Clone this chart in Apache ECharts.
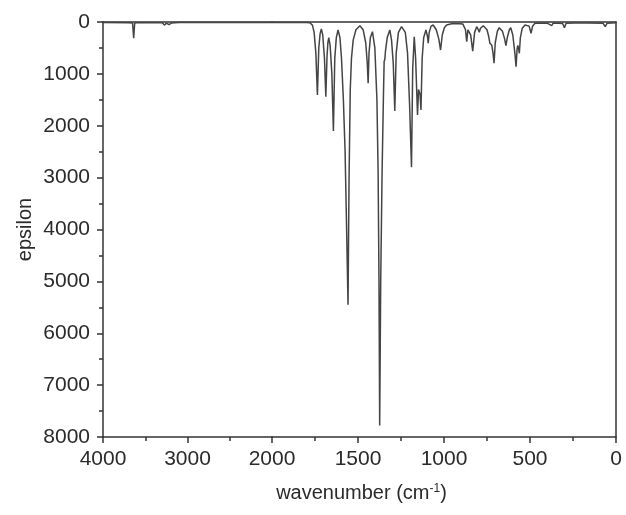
<!DOCTYPE html>
<html>
<head>
    <meta charset="utf-8">
    <title>IR spectrum</title>
    <script src="https://cdn.jsdelivr.net/npm/echarts@6/dist/echarts.min.js"></script>
    <style>
        html, body { margin: 0; padding: 0; background: #fff; }
    </style>
</head>
<body>
<div id="main" style="width: 626px;height:515px;"></div>
<script type="text/javascript">
    // spectrum, wavenumber (cm-1) high to low
    var wavenumber = [
        4000, 3700, 3650, 3637, 3625, 3600, 3300, 3270, 3250, 3220, 3190, 3100, 2000,
        1800, 1780, 1765, 1755, 1745, 1736, 1728, 1720, 1713, 1705, 1695, 1687, 1680, 1675, 1670,
        1662, 1652, 1643, 1635, 1626, 1616, 1605, 1596, 1585, 1575, 1565, 1558, 1552, 1545, 1538,
        1528, 1512, 1489, 1470, 1455, 1446, 1441, 1436, 1428, 1416, 1402, 1390, 1383, 1378, 1374,
        1368, 1360, 1352, 1348, 1344, 1340, 1330, 1315, 1305, 1295, 1286, 1278, 1265, 1247, 1239,
        1225, 1212, 1200, 1189, 1182, 1173, 1165, 1154, 1148, 1144, 1139, 1134, 1127, 1118, 1105,
        1096, 1092, 1086, 1075, 1063, 1045, 1030, 1020, 1010, 998, 985, 950, 910, 890,
        875, 868, 861, 855, 845, 833, 822, 810, 800, 795, 788, 772, 750, 740, 733, 722, 715, 709,
        702, 690, 679, 660, 648, 640, 632, 620, 612, 600, 588, 581, 575, 571, 566, 562, 556, 545,
        529, 505, 494, 485, 471, 400, 374, 365, 350, 344, 335, 310, 300, 290, 245, 238, 230, 176,
        170, 162, 75, 63, 52, 0
    ];
    var epsilon = [
        10, 15, 20, 314, 20, 15, 15, 60, 20, 50, 20, 10, 8,
        12, 15, 60, 200, 600, 1406, 500, 220, 135, 250, 700, 1440, 650, 400, 302,
        450, 1000, 2100, 700, 300, 154, 300, 700, 1500, 2500, 4200, 5450, 3000, 1300, 700,
        350, 150, 71, 150, 400, 800, 1180, 600, 300, 187, 500, 1500, 2900, 5000, 7780,
        5000, 2900, 1400, 760, 720, 550, 300, 154, 350, 800, 1715, 600, 200, 90, 90,
        200, 600, 1600, 2800, 900, 283, 700, 1790, 1300, 1280, 1400, 1696, 700, 300, 154,
        280, 410, 200, 80, 58, 150, 330, 540, 250, 110, 58, 30, 35, 40,
        150, 380, 150, 120, 250, 560, 200, 90, 150, 200, 120, 71, 150, 280, 410, 450, 600, 796,
        400, 180, 110, 180, 320, 457, 300, 150, 110, 250, 600, 861, 520, 450, 520, 603, 300, 120,
        58, 80, 218, 80, 25, 20, 70, 20, 25, 60, 25, 30, 110, 25, 20, 50, 20, 20,
        50, 20, 25, 90, 25, 15
    ];

    // the x axis is broken at 2000: 4000-2000 drawn at half the scale of 2000-0
    var breakAt = 2000;
    var highPart = [], lowPart = [];
    for (var i = 0; i < wavenumber.length; i++) {
        if (wavenumber[i] >= breakAt) highPart.push([wavenumber[i], epsilon[i]]);
        if (wavenumber[i] <= breakAt) lowPart.push([wavenumber[i], epsilon[i]]);
    }

    var font = "'Liberation Sans', Arial, sans-serif";
    var ink = '#333';
    var axisLine = {show: true, onZero: false, lineStyle: {color: ink, width: 1.5}};
    var tickLabel = {
        color: '#2b2b2b', fontSize: 21, fontFamily: font,
        formatter: function (v) { return String(v); }   // no thousands separator
    };

    function bottomAxis(grid, min, max, interval, extra) {
        var ax = {
            gridIndex: grid, type: 'value', position: 'bottom', inverse: true,
            min: min, max: max, interval: interval,
            axisLine: axisLine,
            axisTick: {show: true, length: 6, lineStyle: {color: ink, width: 1.5}},
            minorTick: {show: true, splitNumber: 2, length: 4, lineStyle: {color: ink, width: 1.5}},
            axisLabel: Object.assign({margin: 12}, tickLabel),
            splitLine: {show: false}
        };
        return Object.assign(ax, extra || {});
    }

    function topAxis(grid, min, max) {
        return {
            gridIndex: grid, type: 'value', position: 'top', inverse: true,
            min: min, max: max,
            axisLine: axisLine, axisTick: {show: false}, axisLabel: {show: false},
            splitLine: {show: false}
        };
    }

    var myChart = echarts.init(document.getElementById('main'));
    var option = {
        animation: false,
        backgroundColor: '#fff',
        grid: [
            {left: 103, top: 22, width: 169, height: 415},
            {left: 272, top: 22, width: 344, height: 415}
        ],
        xAxis: [
            bottomAxis(0, 2000, 4000, 1000),
            bottomAxis(1, 0, 2000, 500, {
                name: 'wavenumber (cm{sup|-1})',
                nameLocation: 'middle',
                nameGap: 46,
                nameTextStyle: {
                    color: '#2b2b2b', fontSize: 20, fontFamily: font, padding: [0, 0, 0, -165],
                    rich: {sup: {fontSize: 12, fontFamily: font, color: '#2b2b2b', padding: [0, 0, 9, 0]}}
                },
                axisLabel: Object.assign({margin: 12, showMaxLabel: false}, tickLabel)
            }),
            topAxis(0, 2000, 4000),
            topAxis(1, 0, 2000)
        ],
        yAxis: [
            {
                gridIndex: 0, type: 'value', position: 'left', inverse: true,
                min: 0, max: 8000, interval: 1000,
                name: 'epsilon', nameLocation: 'middle', nameGap: 68, nameRotate: 90,
                nameTextStyle: {color: '#2b2b2b', fontSize: 20, fontFamily: font},
                axisLine: axisLine,
                axisTick: {show: true, length: 6, lineStyle: {color: ink, width: 1.5}},
                minorTick: {show: true, splitNumber: 2, length: 4, lineStyle: {color: ink, width: 1.5}},
                axisLabel: Object.assign({margin: 13}, tickLabel),
                splitLine: {show: false}
            },
            {
                gridIndex: 1, type: 'value', position: 'right', inverse: true,
                min: 0, max: 8000,
                axisLine: axisLine, axisTick: {show: false}, axisLabel: {show: false},
                splitLine: {show: false}
            }
        ],
        series: [
            {
                type: 'line', xAxisIndex: 0, yAxisIndex: 0, data: highPart,
                symbol: 'none', lineStyle: {color: '#444', width: 1.5}
            },
            {
                type: 'line', xAxisIndex: 1, yAxisIndex: 1, data: lowPart,
                symbol: 'none', lineStyle: {color: '#444', width: 1.5}
            }
        ]
    };
    myChart.setOption(option);
</script>
</body>
</html>
